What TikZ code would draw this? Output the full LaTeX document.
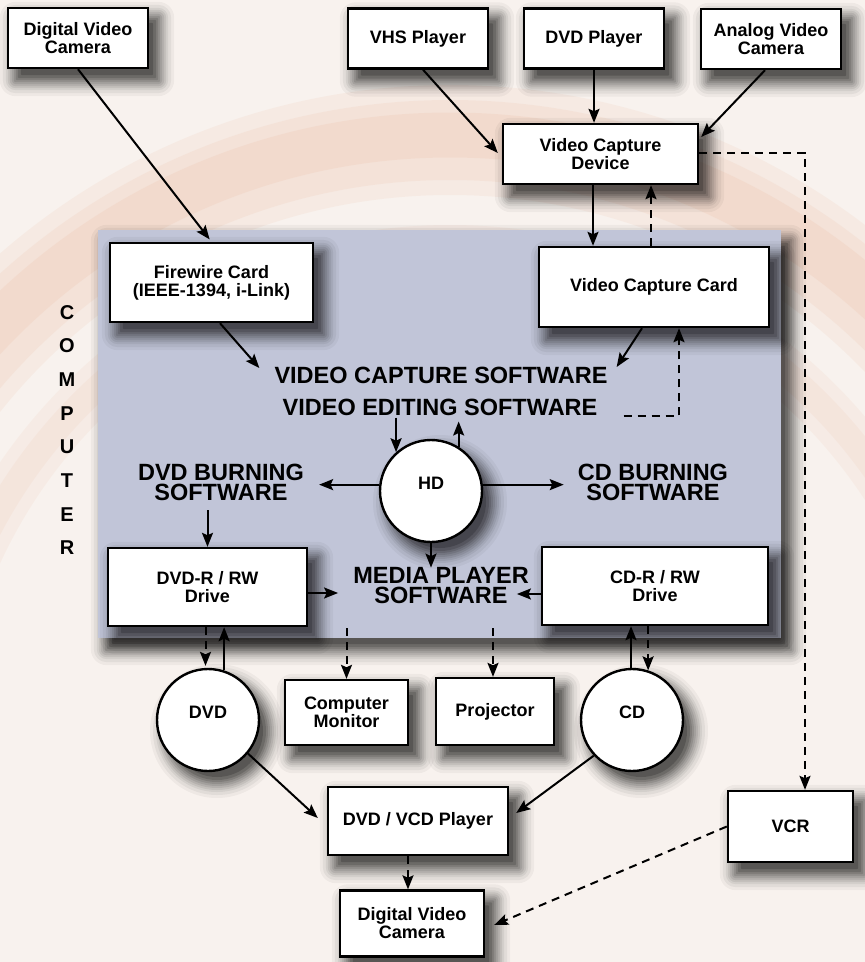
\documentclass[tikz,border=0pt]{standalone}
\usepackage{fontspec}
\setmainfont{Liberation Sans}
\usetikzlibrary{arrows.meta,calc}
\definecolor{panelc}{RGB}{193,197,216}
\definecolor{bgc}{RGB}{248,242,238}
\definecolor{arcc}{RGB}{236,180,150}
\pgfdeclarelayer{back}
\pgfdeclarelayer{panl}
\pgfdeclarelayer{shl}
\pgfsetlayers{back,panl,shl,main}
\newcommand\rshad[1]{%
  \foreach \e/\o/\r in {16/0.04/16,13/0.05/13,10/0.06/10,8/0.07/8,6/0.08/6,4/0.09/4,2/0.1/2,0/0.12/1,-2/0.15/1,-5/0.18/1}{%
    \fill[black, opacity=\o, rounded corners=\r pt]
      ($(#1.south west)+(9-\e,-11-\e)$) rectangle ($(#1.north east)+(9+\e,-11+\e)$);}}
\newcommand\cshad[1]{%
  \foreach \e/\o in {16/0.04,13/0.05,10/0.06,8/0.07,6/0.08,4/0.09,2/0.1,0/0.12,-2/0.15,-5/0.18}{%
    \fill[black, opacity=\o] ($(#1.center)+(9,-11)$) circle[radius=51+\e];}}
\tikzset{
  box/.style={draw=black, line width=2.4pt, fill=white, align=center, inner sep=0pt,
    font=\bfseries\fontsize{18}{18}\selectfont},
  disc/.style={circle, draw=black, line width=2.4pt, fill=white, inner sep=0pt, minimum size=102pt},
  disctext/.style={font=\bfseries\fontsize{18}{18}\selectfont, yshift=8pt},
  big/.style={font=\bfseries\fontsize{23.5}{20}\selectfont, align=center, inner sep=0pt},
  arr/.style={line width=2pt, -{Stealth[length=14pt,width=11pt,inset=2.5pt]}},
  dsh/.style={arr, dash pattern=on 8pt off 6pt},
}
\begin{document}
\begin{tikzpicture}[x=1pt,y=1pt]
\useasboundingbox (0,0) rectangle (865,-962);
\begin{pgfonlayer}{back}
\fill[bgc] (0,0) rectangle (865,-962);
\begin{scope}
\clip (0,0) rectangle (865,-962);
\draw[arcc, line width=110pt, opacity=0.12] (450,-770) circle[radius=630];
\draw[arcc, line width=80pt, opacity=0.14] (450,-770) circle[radius=630];
\draw[arcc, line width=45pt, opacity=0.16] (450,-770) circle[radius=635];
\draw[arcc, line width=50pt, opacity=0.10] (450,-770) circle[radius=520];
\draw[arcc, line width=25pt, opacity=0.10] (450,-770) circle[radius=520];
\end{scope}
\end{pgfonlayer}
% computer panel
\begin{pgfonlayer}{panl}
\node[fill=panelc, minimum width=683pt, minimum height=408pt, inner sep=0pt] (panel) at (439.5,-434) {};
\end{pgfonlayer}
\begin{pgfonlayer}{back}
\rshad{panel}
\end{pgfonlayer}
\node[font=\bfseries\fontsize{20}{33.7}\selectfont, align=center, inner sep=0pt] (comp) at (67,-430) {C\\O\\M\\P\\U\\T\\E\\R};
% boxes
\node[box, minimum width=140pt, minimum height=60pt] (dvc1) at (78,-38) {Digital Video\\Camera};
\node[box, minimum width=140pt, minimum height=60pt] (vhs) at (418,-38.5) {VHS Player};
\node[box, minimum width=140pt, minimum height=60pt] (dvdp) at (594,-38.5) {DVD Player};
\node[box, minimum width=140pt, minimum height=60pt] (avc) at (771,-39) {Analog Video\\Camera};
\node[box, minimum width=195pt, minimum height=60pt] (vcd) at (600.5,-154) {Video Capture\\Device};
\node[box, minimum width=230pt, minimum height=80pt] (vcc) at (654,-287) {Video Capture Card};
\node[box, minimum width=203pt, minimum height=79pt] (fw) at (211.5,-282.5) {Firewire Card\\(IEEE-1394, i-Link)};
\node[box, minimum width=199pt, minimum height=78pt] (dvdr) at (207.5,-587) {DVD-R / RW\\Drive};
\node[box, minimum width=226pt, minimum height=78pt] (cdr) at (655,-586) {CD-R / RW\\Drive};
\node[box, minimum width=123pt, minimum height=65pt] (mon) at (346.5,-712.5) {Computer\\Monitor};
\node[box, minimum width=118pt, minimum height=67pt] (proj) at (495,-711.5) {Projector};
\node[box, minimum width=180pt, minimum height=68pt] (player) at (418,-821) {DVD / VCD Player};
\node[box, minimum width=144pt, minimum height=66pt] (dvc2) at (412,-923.5) {Digital Video\\Camera};
\node[box, minimum width=125pt, minimum height=71pt] (vcr) at (790.5,-826.5) {VCR};
% discs
\node[disc, label={[disctext]center:HD}] (hd) at (431,-491) {};
\node[disc, label={[disctext]center:DVD}] (dvd) at (208,-720) {};
\node[disc, label={[disctext]center:CD}] (cd) at (632,-720) {};
% shadows
\begin{pgfonlayer}{shl}
\rshad{dvc1}\rshad{vhs}\rshad{dvdp}\rshad{avc}\rshad{vcd}\rshad{vcc}\rshad{fw}
\rshad{dvdr}\rshad{cdr}\rshad{mon}\rshad{proj}\rshad{player}\rshad{dvc2}\rshad{vcr}
\cshad{hd}\cshad{dvd}\cshad{cd}
\end{pgfonlayer}
% software labels
\node[big] (vcs) at (441,-375) {VIDEO CAPTURE SOFTWARE};
\node[big] (ves) at (440,-407) {VIDEO EDITING SOFTWARE};
\node[big] (dvdb) at (221,-482.5) {DVD BURNING\\SOFTWARE};
\node[big] (cdb) at (653,-482.5) {CD BURNING\\SOFTWARE};
\node[big] (media) at (441,-586) {MEDIA PLAYER\\SOFTWARE};
\coordinate (mstart) at ([yshift=-42pt]media.center);
% connectors
\draw[arr, shorten >=3pt] (dvc1.south) -- (fw.north);
\draw[arr] ([xshift=5pt]vhs.south) -- ([xshift=-4pt,yshift=1pt]vcd.west);
\draw[arr] (dvdp.south) -- (dvdp.south |- vcd.north);
\draw[arr] ([xshift=-6pt]avc.south) -- ([xshift=2pt,yshift=17pt]vcd.east);
\draw[arr] ([xshift=-7.5pt]vcd.south) -- ([xshift=-7.5pt]vcd.south |- vcc.north);
\draw[dsh] ([xshift=50.5pt]vcd.south |- vcc.north) -- ([xshift=50.5pt]vcd.south);
\draw[dsh] ([yshift=1pt]vcd.east) -| ([xshift=14.5pt]vcr.north);
\draw[arr] ([xshift=8.5pt]fw.south) -- ([xshift=-15pt,yshift=7pt]vcs.west);
\draw[arr] ([xshift=-12pt]vcc.south) -- ([xshift=9pt,yshift=8pt]vcs.east);
\draw[dsh] ([xshift=26pt,yshift=-9pt]ves.east) -| ([xshift=25pt]vcc.south);
\draw[arr, shorten <=2pt] (hd.132 |- ves.south) -- (hd.132);
\draw[arr, shorten >=6pt] (hd.58) -- (hd.58 |- ves.south);
\draw[arr] (hd.173) -- ([xshift=15pt]dvdb.east |- hd.173);
\draw[arr] (hd.7) -- ([xshift=-14pt]cdb.west |- hd.7);
\draw[arr, shorten <=9pt] (dvdr.north |- dvdb.south) -- (dvdr.north);
\draw[arr] (hd.south) -- (hd.south |- media.north);
\draw[arr] ([yshift=-6pt]dvdr.east) -- ([xshift=-15pt,yshift=-7pt]media.west);
\draw[arr] ([yshift=-8pt]cdr.west) -- ([xshift=-12pt,yshift=-8pt]media.east);
\draw[dsh] (mon.north |- mstart) -- (mon.north);
\draw[dsh] ([xshift=-2pt]proj.north |- mstart) -- ([xshift=-2pt]proj.north);
\draw[dsh, shorten >=2pt] ([xshift=-2pt]dvdr.south) -- ([xshift=-2pt]dvdr.south |- dvd.north);
\draw[arr] (dvd.72) -- (dvd.72 |- dvdr.south);
\draw[arr] ([xshift=-1pt]cd.north) -- ([xshift=-1pt]cd.north |- cdr.south);
\draw[dsh] (cd.72 |- cdr.south) -- (cd.72);
\draw[arr] (dvd.-40) -- ([xshift=-9pt,yshift=3pt]player.west);
\draw[arr] (cd.223) -- ([xshift=7pt,yshift=8pt]player.east);
\draw[dsh] ([xshift=-10pt]player.south) -- ([xshift=-10pt]player.south |- dvc2.north);
\draw[dsh] (vcr.west) -- ([xshift=9pt,yshift=-1.5pt]dvc2.east);
\end{tikzpicture}
\end{document}
